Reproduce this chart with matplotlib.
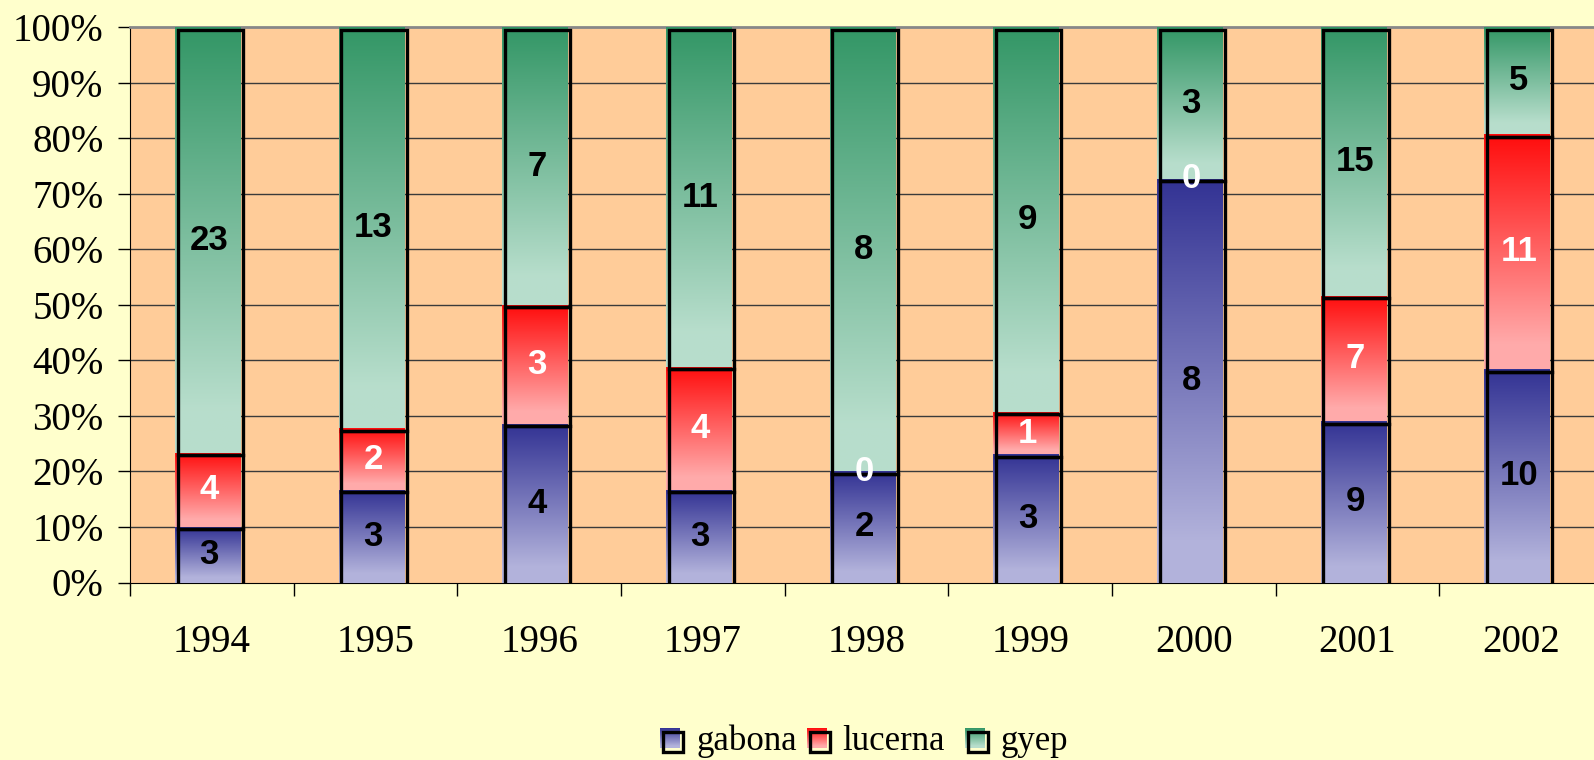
import numpy as np
import matplotlib
matplotlib.use("Agg")
import matplotlib.pyplot as plt
from matplotlib.patches import Rectangle
from matplotlib.transforms import offset_copy
from matplotlib.ticker import FixedLocator

years = ["1994", "1995", "1996", "1997", "1998", "1999", "2000", "2001", "2002"]
gabona = [3, 3, 4, 3, 2, 3, 8, 9, 10]
lucerna = [4, 2, 3, 4, 0, 1, 0, 7, 11]
gyep = [23, 13, 7, 11, 8, 9, 3, 15, 5]
series_names = ["gabona", "lucerna", "gyep"]
y_ticks = [0, 10, 20, 30, 40, 50, 60, 70, 80, 90, 100]

top_cols = [(0.20, 0.20, 0.58), (1.00, 0.05, 0.05), (0.20, 0.59, 0.40)]
bot_cols = [(0.70, 0.70, 0.86), (1.00, 0.67, 0.67), (0.72, 0.87, 0.80)]
label_cols = ["black", "white", "black"]

fig = plt.figure(figsize=(15.94, 7.6), dpi=100, facecolor="#FFFFCC")
ax = fig.add_axes([130/1594, 1-582.5/760, 1473/1594, (582.5-27.4)/760])
ax.set_facecolor("#FFCC99")
ax.set_xlim(-0.5, 8.5)
ax.set_ylim(0, 1)

def grad_img(top, bot, n=128):
    t = np.linspace(0, 1, n)
    t = np.clip(t / 0.9, 0, 1)
    arr = np.zeros((n, 1, 3))
    for k in range(3):
        arr[:, 0, k] = top[k] + (bot[k] - top[k]) * t
    return arr

out_tr = offset_copy(ax.transData, fig=fig, x=2.5, y=-2.5, units="dots")
w = 0.40
shift = -0.025
data = [gabona, lucerna, gyep]
for i in range(len(years)):
    total = gabona[i] + lucerna[i] + gyep[i]
    base = 0.0
    xc = i + shift
    for s in range(3):
        frac = data[s][i] / total
        x0 = xc - w/2
        if frac > 0:
            ax.imshow(grad_img(top_cols[s], bot_cols[s]), extent=[x0, x0+w, base, base+frac],
                      aspect="auto", origin="upper", zorder=3, interpolation="bilinear")
            ax.add_patch(Rectangle((x0, base), w, frac, fill=False, ec="black", lw=2.4,
                                   transform=out_tr, zorder=4))
        yc = base + frac/2
        ax.text(xc + 0.01, yc, str(data[s][i]), ha="center", va="center", color=label_cols[s],
                fontsize=25, fontweight="bold", family="Liberation Sans", zorder=6)
        base += frac

ax.set_xlim(-0.5, 8.5)
ax.set_ylim(0, 1)

# grid
for yv in y_ticks[1:-1]:
    ax.axhline(yv/100, color="#3a3a3a", lw=1.0, zorder=1)

ax.set_yticks([v/100 for v in y_ticks])
ax.set_yticklabels([f"{v}%" for v in y_ticks], family="Liberation Serif", fontsize=28)
ax.xaxis.set_major_locator(FixedLocator(np.arange(-0.5, 9.0, 1.0)))
ax.set_xticklabels([])
ax.xaxis.set_minor_locator(FixedLocator(np.arange(0, 9)))
ax.set_xticklabels(years, minor=True, family="Liberation Serif", fontsize=28)
ax.tick_params(axis="x", which="major", length=9, width=1, direction="out", color="black")
ax.tick_params(axis="x", which="minor", length=0, pad=30)
ax.tick_params(axis="y", length=9, width=1, direction="out", pad=10)
ax.spines["right"].set_visible(False)
ax.spines["top"].set_color("#888888")
ax.spines["top"].set_linewidth(2)
ax.spines["left"].set_color("black")
ax.spines["bottom"].set_color("black")

# legend (manual)
W, H = 1594, 760
def fx(px): return px / W
def fy(py): return 1 - py / H
legend_items = [(660, 697, "gabona"), (807, 842, "lucerna"), (965, 1000, "gyep")]
for s, (sx, tx, name) in enumerate(legend_items):
    lax = fig.add_axes([fx(sx), fy(748), fx(20), 20/H])
    lax.imshow(grad_img(top_cols[s], bot_cols[s]), aspect="auto", origin="upper", extent=[0, 1, 0, 1])
    lax.set_axis_off()
    fig.patches.append(Rectangle((fx(sx+3), fy(752)), fx(20), 20/H, fill=False, ec="black", lw=2.4,
                                 transform=fig.transFigure, figure=fig, zorder=5))
    fig.text(fx(tx), fy(750), name, ha="left", va="baseline", family="Liberation Serif", fontsize=25)

fig.savefig("out.png", dpi=100, facecolor=fig.get_facecolor())
